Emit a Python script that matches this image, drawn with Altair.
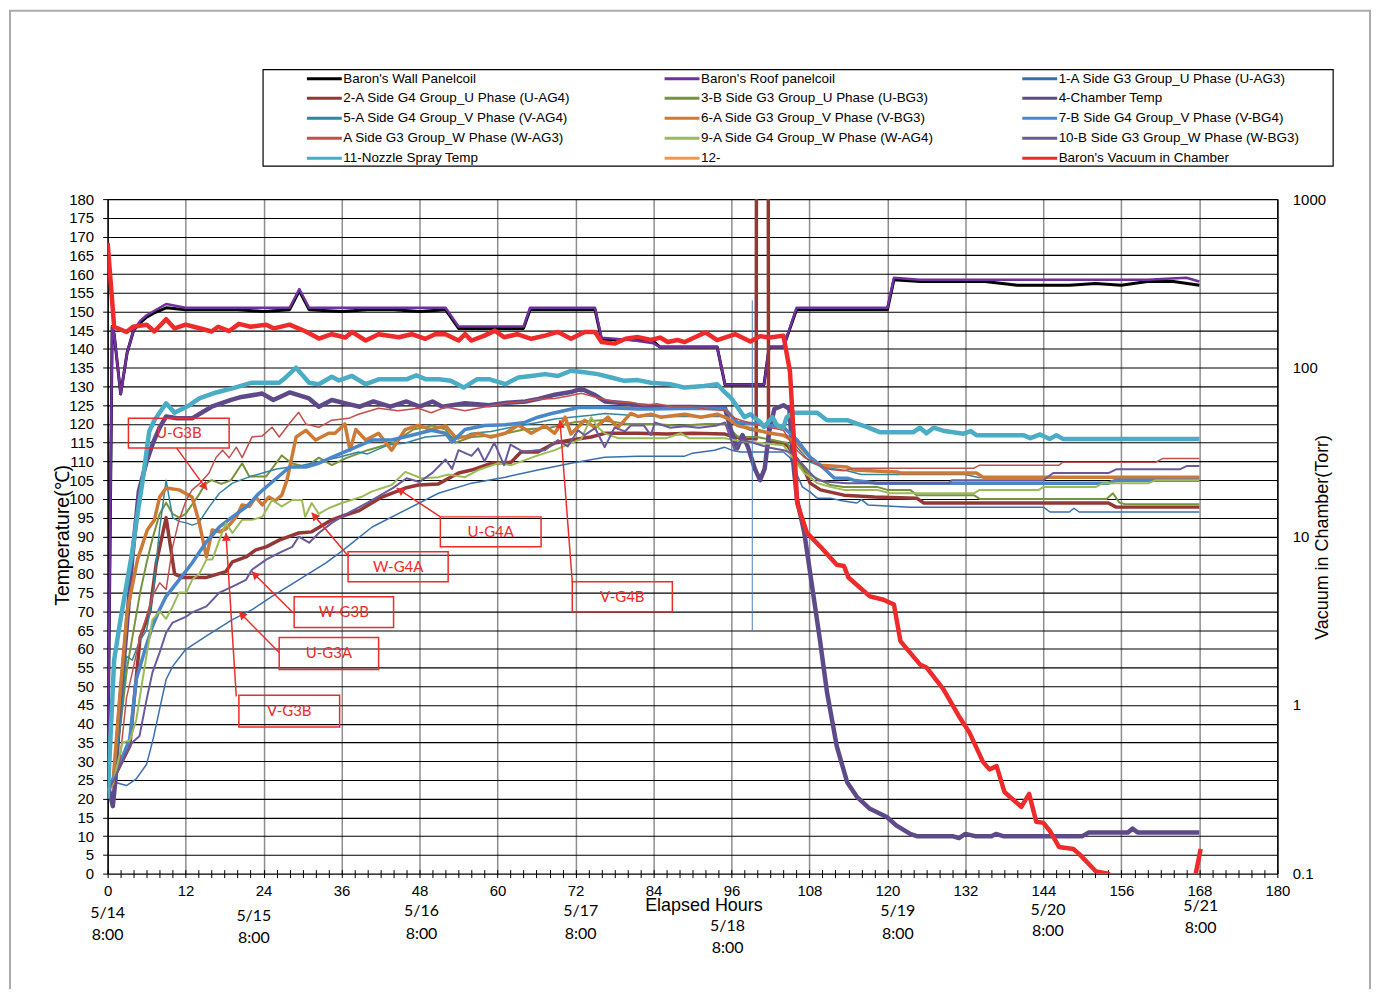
import math
import altair as alt
import pandas as pd

# ---------------- series names / colours / widths ----------------
NAMES = [
    "Baron's Wall Panelcoil", "Baron's Roof panelcoil", "1-A Side G3 Group_U Phase (U-AG3)",
    "2-A Side G4 Group_U Phase (U-AG4)", "3-B Side G3 Group_U Phase (U-BG3)", "4-Chamber Temp",
    "5-A Side G4 Group_V Phase (V-AG4)", "6-A Side G3 Group_V Phase (V-BG3)", "7-B Side G4 Group_V Phase (V-BG4)",
    "A Side G3 Group_W Phase (W-AG3)", "9-A Side G4 Group_W Phase (W-AG4)", "10-B Side G3 Group_W Phase (W-BG3)",
    "11-Nozzle Spray Temp", "12-", "Baron's Vacuum in Chamber",
]
COLORS = ["#000000", "#7030A0", "#3A6FAF", "#953735", "#77933C", "#5E4A8A",
          "#31859C", "#CC7A35", "#4A86C8", "#C0504D", "#9BBB59", "#6A5A9C",
          "#4BACC6", "#F79646", "#EE2A2A"]
WIDTHS = [3, 2.5, 1.5, 3.5, 2, 4.5, 1.5, 3.5, 3.5, 1.5, 2, 2, 4.5, 2, 4.5]
# legend fills column by column: this order shows the entries row by row (3 per row)
LEGEND_ORDER = [0, 3, 6, 9, 12, 1, 4, 7, 10, 13, 2, 5, 8, 11, 14]

# ---------------- data (hours, deg C) ----------------
WALL_H = [0, 0.7, 1, 2, 3, 4, 5, 6, 7, 9, 12, 16, 20, 24, 28, 29.5, 31, 36, 40, 44, 48, 52, 54, 58, 62, 64, 65, 70, 75, 76,
          80, 84, 85, 90, 93.8, 95, 100, 101, 101.8, 104, 106, 110, 115, 120, 121, 125, 130, 135, 140, 144, 148, 152, 156, 160, 164, 168]
WALL_T = [22, 146, 144, 128, 139, 145, 147, 148.5, 149.5, 151, 150.5, 150.5, 150.5, 150, 150.5, 155.5, 150.5, 150, 150.5, 150.5,
          150, 150.5, 145.5, 145.5, 145.5, 145.5, 150.5, 150.5, 150.5, 142.5, 142.5, 142, 140.5, 140.5, 140.5, 130.5, 130.5, 130.5,
          140.5, 140.5, 150.5, 150.5, 150.5, 150.5, 158.5, 158, 158, 158, 157, 157, 157, 157.5, 157, 158, 158, 157]

ROOF_H = [0, 0.7, 1, 2, 3, 4, 5, 6, 7, 9, 12, 16, 20, 24, 28, 29.5, 31, 36, 40, 44, 48, 52, 54, 58, 62, 64, 65, 70, 75, 76,
          80, 84, 85, 90, 93.8, 95, 100, 101, 101.8, 104, 106, 110, 115, 120, 121, 125, 130, 135, 140, 144, 148, 152, 156, 160, 166, 168]
ROOF_T = [22, 146, 144, 128, 139, 145, 147.5, 149, 150, 152, 151, 151, 151, 151, 151, 156, 151, 151, 151, 151,
          151, 151, 146, 146, 146, 146, 151, 151, 151, 143, 142.5, 141.5, 140.5, 140.5, 140.5, 130.5, 130.5, 130.5,
          140.5, 140.5, 151, 151, 151, 151, 159, 158.5, 158.5, 158.5, 158.5, 158.5, 158.5, 158.5, 158.5, 158.5, 159, 158]

UAG3_H = [0, 0.8, 2.9, 4.4, 6, 7, 8, 9, 10, 12, 15.1, 19.2, 22.3, 25.3, 29.4, 33.6, 36, 40.7, 45.8, 50.9, 56, 61.2, 66.2,
          71.3, 76.5, 81.6, 88.8, 90, 93.4, 94.9, 96, 97.4, 104, 105, 106.9, 108.1, 109.2, 111.2, 113, 115.3, 116, 117,
          123.5, 144, 145, 148, 148.7, 149.5, 168]
UAG3_T = [22, 24.5, 23.5, 25.3, 29.2, 35.9, 43.9, 51.8, 55.3, 59.8, 63.3, 67.8, 70.5, 74, 78.4, 82.9, 86, 92.5, 97, 101.5,
          104.2, 105.8, 107.7, 109.5, 111.1, 111.4, 111.4, 112.2, 113, 113.8, 113, 112.5, 112.5, 111, 103.2, 101.8, 100.2,
          100.2, 99.5, 98.9, 99.8, 98.4, 97.8, 97.8, 96.5, 96.5, 97.5, 96.5, 96.5]

UAG4_H = [0, 0.8, 3.4, 4, 5, 6.5, 7.5, 9, 10.3, 11.5, 15.1, 18.2, 19.2, 21.3, 22.8, 24.4, 26.4, 29.4, 31.4, 34.5, 36.6,
          38.6, 42.2, 45.8, 47.8, 50.9, 54, 56, 59, 62.1, 63.6, 66.2, 68.8, 71.3, 74.4, 76.5, 81.6, 86, 90, 95, 96.4,
          99.8, 99.9, 101.6, 101.7, 104.6, 107.2, 108.1, 109.7, 113.3, 118, 124.5, 125.6, 154, 155.2, 168]
UAG4_T = [22, 25, 34, 45, 63, 70, 83, 95, 80, 79, 79, 80.6, 83.2, 84.5, 86.4, 87.2, 89, 90.9, 91.2, 94.4, 95.7, 96.8,
          100.5, 102.9, 103.7, 104, 106.9, 107.7, 109.5, 109.8, 112.5, 112.5, 114.9, 115.7, 116.5, 117.5, 117.5, 117.3,
          117.5, 117.3, 116.5, 116, 300, 300, 115.7, 114.3, 107.7, 104.2, 102.4, 101, 100.5, 100.2, 98.9, 98.9, 97.8, 97.8]

UBG3_H = [0, 0.8, 2, 3, 4, 5, 6, 7, 8, 9, 10, 11, 12, 13, 14, 15, 16, 17.5, 19, 20.7, 21.8, 24.4, 25.9, 26.8, 28.3, 30.5,
          32.5, 34.5, 36.6, 40, 44, 47, 50, 52, 53.5, 56, 60, 64, 68, 72, 76, 80, 84, 88, 92, 95, 97, 100, 104.6, 106,
          108, 109.7, 111.2, 113.3, 118.4, 120, 123.5, 124.5, 133.3, 134.2, 153.7, 154.7, 155.7, 156.5, 168]
UBG3_T = [22, 24, 40, 55, 65, 75, 83, 90, 96, 99, 96, 95, 96, 98.5, 101, 104, 105, 104, 105, 109.5, 106, 106, 109.5,
          111.6, 109.5, 108.5, 111, 109, 110.8, 113, 115, 118.5, 119.6, 118.5, 115, 116.5, 117, 118.5, 119, 120.5, 121,
          120, 120, 119.5, 120, 120, 116.5, 116.5, 114.9, 110, 106.5, 105, 103.7, 103.2, 103.2, 102.4, 102.4, 101, 101,
          100, 100, 101.5, 99, 98.6, 98.6]

CH_H = [0, 0.8, 1.2, 1.8, 2.9, 3.8, 4.8, 6, 7, 8, 9, 10.7, 13, 16, 19, 20.6, 23.8, 25.5, 28, 31, 32.5, 34.5, 36.6, 38.8,
        40.9, 43.5, 46, 48, 50, 51.5, 55, 58.7, 61.2, 64.3, 66.3, 68.8, 71.3, 72.9, 74.9, 76.5, 79.6, 81.6, 85, 90, 95,
        95.8, 96.9, 97.7, 98.5, 99.6, 100.4, 101.1, 101.8, 102.6, 104, 104.9, 105.6, 106.1, 107.2, 108.1, 109.6, 110.7,
        112.2, 113.8, 115.3, 117.3, 119.9, 121.4, 123.5, 124.5, 130, 131, 132, 133.5, 136, 136.7, 137.8, 150, 151, 157,
        157.7, 158.5, 168]
CH_T = [24, 18, 25, 43, 65, 84.5, 102, 110, 115, 119, 122, 121.5, 121.5, 124.6, 126.4, 127.2, 128.1, 126.4, 128.4,
        126.8, 124.6, 126.4, 125.5, 124.6, 126, 124.6, 126, 124.6, 126, 124.6, 125.5, 125, 125.6, 126, 126.7, 127.8,
        128.5, 129.4, 127.8, 126, 125.5, 125, 124.5, 124.5, 124.3, 119, 113.5, 117, 114, 108, 105, 108, 118, 124, 125,
        124, 108, 99.7, 91, 80.3, 62.5, 48.4, 34, 24.4, 20.5, 17.3, 15.1, 12.8, 10.6, 10, 10, 9.5, 10.6, 10, 10, 10.6,
        10, 10, 11, 11, 12, 11, 11]

VAG4_H = [0, 0.8, 2, 2.9, 3.8, 4.9, 6, 7, 8, 9, 10, 11, 12.1, 13, 14, 15.6, 17.2, 19.2, 22, 26, 30, 34, 35.6, 38.6, 40,
          43.2, 45.8, 48.9, 52, 54, 56, 59, 62.1, 66.2, 68.8, 71.3, 74.4, 76.5, 81.6, 86, 90, 95, 96.5, 98.9, 102, 104.6,
          106.1, 108.1, 110, 113.8, 116, 132, 134, 168]
VAG4_T = [22, 24, 40, 58, 57, 62, 65, 75, 92, 105, 95, 94, 93.6, 93, 93.6, 97.8, 101.5, 104.2, 106, 108, 109, 110.5,
          111.1, 112.5, 112, 114.4, 114.9, 116.5, 117, 116, 117.5, 118, 119.1, 120.4, 121.3, 121.8, 122.3, 122.8, 122.2,
          122, 122, 122, 120.2, 118.3, 117.5, 117, 113.8, 109.8, 108.5, 107.5, 106.5, 106.5, 105.7, 105.7]

VBG3_H = [0, 0.8, 2, 3, 4.6, 6.1, 7.2, 8, 9, 11, 13, 14.1, 15.2, 16.1, 17.2, 18.2, 19.8, 20.7, 21.8, 22.8, 23.8, 24.8,
          25.8, 26.8, 27.6, 29, 30.5, 32, 34, 35, 36.5, 37.3, 38.2, 39.7, 41.7, 43.7, 45.8, 47.8, 49.8, 52, 53.5, 55, 57,
          59, 61.2, 63.2, 65.2, 67.3, 68.8, 70.4, 71.3, 73.4, 75, 77, 78.5, 80.5, 81.6, 83.6, 85.1, 88.8, 91.3, 93.8,
          95.4, 96.9, 100, 102, 104, 106.1, 108.1, 109.7, 113.8, 114.8, 121.4, 122, 133.7, 134.7, 168]
VBG3_T = [22, 24, 50, 70, 83.8, 91.7, 94.4, 100.5, 102.9, 102.4, 100.5, 93.6, 84.5, 91.7, 91.2, 92, 95.2, 98.4, 98,
          100.5, 98.4, 100.5, 99.5, 101, 105, 116.5, 118.3, 115.7, 117.5, 117.5, 120, 113, 118.5, 115.7, 117.5, 113,
          118.5, 119.6, 118.5, 119.5, 116.5, 116.5, 117.5, 116.5, 117.5, 119.7, 117.5, 119.5, 117.5, 121.8, 117.3, 121,
          119, 121.8, 119, 122.8, 122, 122.6, 121.8, 122.6, 121.8, 122.6, 121.5, 119.6, 118.3, 117.5, 117, 114.9, 111.1,
          109, 108.5, 107.7, 107.2, 106.9, 106.9, 105.8, 105.8]

VBG4_H = [0, 0.8, 3.4, 4.4, 5.9, 6.9, 8, 9, 11, 13, 15.1, 17.2, 19.2, 21.3, 23.3, 25.3, 28, 30.5, 32.5, 34.5, 37.1,
          40.7, 43.7, 46.8, 49.8, 52, 53, 55, 58, 61.2, 64.2, 66.2, 68.3, 70.4, 72.4, 76.5, 81.6, 83.6, 90, 95, 96.9,
          100, 104, 106.1, 108.1, 110.2, 111.8, 113.8, 114.8, 118.4, 154, 155.2, 168]
VBG4_T = [22, 25, 35.9, 51.8, 60.6, 66, 70.5, 74, 78.4, 82.9, 88.3, 92.5, 95.2, 97.8, 101.5, 104.5, 108.5, 108.5,
          109.5, 111.1, 113, 115.7, 115.7, 117, 118.3, 117.5, 115.2, 118.5, 119.6, 119.8, 120.4, 121.8, 122.8, 123.6,
          124.4, 124.4, 124, 124, 124.2, 124, 120.4, 120, 119.1, 115.7, 111.1, 108.2, 105.6, 105.5, 105, 104.2, 104.2,
          105, 105]

WAG3_H = [0, 0.8, 1.8, 2.9, 3.8, 4.9, 6.9, 8, 9, 10, 11, 12.1, 13, 14.1, 15.6, 16.7, 17.7, 18.7, 19.8, 20.7, 22.2,
          23.8, 25.3, 26.4, 28, 29.4, 30.5, 32.5, 34.5, 37.1, 38.6, 41.7, 44.7, 47.8, 49.8, 52, 55, 58, 61.2, 64.2, 66.2,
          68.8, 71.3, 72.9, 75.4, 78.5, 80.5, 82.6, 84.5, 87.1, 90, 92, 95, 96.5, 98.9, 101.5, 104, 105.6, 107.2, 108.7,
          110.2, 111.8, 113.3, 114.8, 133.3, 134.2, 146.4, 147, 161.3, 162.4, 168]
WAG3_T = [22, 24, 29, 46.9, 53.7, 62.5, 74, 77.6, 75.8, 87.2, 94.4, 99.7, 102.4, 104, 106.9, 111.1, 113, 111, 113.8,
          111, 116.5, 116.8, 119.1, 116.5, 120.2, 123.1, 120, 119.1, 121, 121.5, 122.6, 124.2, 123.5, 124.2, 123, 124.5,
          123.5, 124.5, 125.5, 126, 126.6, 126.8, 127.6, 128.2, 127, 125.8, 125.8, 125, 125.4, 124.5, 124.5, 124, 123.6,
          121.5, 120.2, 119.2, 118.3, 113.8, 111.1, 109.8, 108.2, 107.7, 107.5, 108.2, 108.2, 109, 109, 109.8, 109.8,
          110.8, 110.8]

WAG4_H = [0, 0.8, 2.3, 3.4, 4.4, 5.4, 6.9, 8, 9, 10, 11, 12.1, 13, 14.1, 15.2, 16.1, 17.2, 18.2, 19.2, 20.7, 22.2,
          23.8, 25.3, 26.8, 28.4, 29.9, 30.4, 31.4, 32.5, 34, 36, 39, 40.7, 43.7, 45.8, 48.3, 50.9, 52.4, 55, 57, 60.1,
          62.1, 66.2, 68.8, 71.3, 72.9, 74.4, 75.5, 76.5, 78.5, 86, 88.2, 89.5, 95, 97, 104, 107.2, 108.1, 109.2, 111.2,
          113.3, 118.4, 120.4, 133.3, 134.2, 143.3, 144, 152.1, 153.2, 160.2, 161.3, 168]
WAG4_T = [22, 24, 35, 35.5, 41, 52, 67.8, 70, 68, 71.3, 75, 75, 78.4, 80, 83.8, 83.8, 89, 93.6, 90.9, 94.4, 94.4,
          95.2, 99.7, 98, 99.7, 99.7, 95.2, 98.9, 96, 97.5, 98.9, 100.5, 102, 103.7, 107.2, 105.5, 105.8, 106.5, 105.8,
          107.7, 109.5, 109, 111.6, 113, 114.9, 116, 121.8, 119, 117.5, 116.2, 116.2, 117.5, 116.2, 116.2, 115.5, 114.3,
          106.9, 105.8, 104.2, 103.2, 102.4, 102.4, 101.5, 101.5, 102.4, 102.4, 103.2, 103.2, 104.2, 104.2, 105, 105]

WBG3_H = [0, 0.8, 2.9, 3.8, 4.9, 6, 6.9, 8, 9, 10, 12.1, 13, 15.2, 17.2, 19.2, 21.3, 22.2, 24.4, 26.4, 28.4, 29.4, 31,
          32.5, 34.5, 37.1, 40, 42, 44, 46, 48, 50, 52, 53, 54, 56, 57, 58, 59.5, 61, 62, 64, 66, 67.3, 69.3, 70.8, 72.4,
          73.4, 75, 76.5, 78, 79.6, 80.5, 82.5, 83.6, 84.2, 86.6, 88.8, 91, 93.8, 95, 96.5, 97.5, 99, 101.5, 104, 105.5,
          107.7, 109.2, 111.2, 113.8, 129.5, 129.9, 144, 145.5, 154, 155.2, 165, 166.1, 168]
WBG3_T = [22, 24.5, 32.4, 35, 36.7, 46.5, 53.7, 59, 64.3, 67, 68.6, 69.7, 71.3, 75, 76.6, 78.4, 81.1, 83.8, 85.6, 87.2,
          89.9, 88.3, 90.9, 93.6, 96.3, 99, 101, 103, 105.5, 104.5, 107, 110.5, 108, 113, 111.5, 113.5, 110, 115, 109,
          114.5, 112.5, 113, 113, 115.7, 114, 118.3, 117, 118.9, 113.8, 119, 118, 119.6, 119.6, 117, 120.4, 119, 119.4,
          119, 119.6, 120.4, 113, 115.7, 115.2, 113.8, 113, 112, 107.7, 105, 104.5, 104.2, 104.2, 105, 105, 106.9,
          106.9, 107.9, 107.9, 108.8, 108.8]

NZ_H = [0, 1, 2, 3, 3.8, 4.6, 5.4, 6.4, 7.2, 9, 10.3, 12.6, 14.1, 16.7, 19.2, 22.2, 26.4, 27.4, 29, 31, 32.5, 34.5,
        35.6, 37.6, 39.7, 41.7, 46, 47.5, 49, 51, 52.8, 54.8, 56.8, 58.8, 61.2, 63.2, 65.2, 67.3, 69.3, 71.3, 73.4, 75.4,
        77.5, 79.5, 81.6, 83.6, 86.6, 88.8, 91.8, 93.8, 95, 96, 98, 98.9, 100.5, 101, 102.3, 103, 104, 104.5, 105.6,
        109.2, 110.7, 113.8, 115.3, 116.8, 118.8, 124, 125, 126, 127.1, 128.8, 131.7, 132.8, 133.7, 140.9, 142, 143.5,
        145, 146, 147, 168]
NZ_T = [20, 57, 68, 78, 86, 96, 105, 118, 121, 125.5, 123, 125, 126.8, 128.4, 129.5, 131, 131, 132.4, 135, 131,
        130.6, 132.6, 131.6, 132.8, 130.6, 131.9, 131.9, 133, 131.9, 131.9, 131.5, 129.7, 131.9, 131.9, 130.6, 132.4,
        132.8, 133.3, 132.8, 134.2, 133.8, 133.3, 132.4, 131.5, 131.7, 131, 130.6, 129.7, 130.1, 130.6, 128.4, 126.8,
        121.8, 122.6, 120.4, 119.2, 121.8, 119.6, 119.2, 121.8, 123, 123, 121, 121, 120.1, 119.2, 117.8, 117.8, 119,
        117.5, 119, 118.1, 117.4, 118.1, 117, 117, 116.2, 117.2, 116, 117, 116, 116]

# vacuum (Torr, right log axis)
VAC_H = [0, 1, 2.9, 3.9, 6, 7.2, 9, 10.3, 12, 14, 16, 17, 18.7, 20.2, 22, 24.4, 25.6, 28, 30.5, 32.5, 34.5, 36.6, 37.6,
         39.7, 41.7, 44.8, 46.8, 48.9, 50.4, 52, 54, 55, 56, 58, 59.6, 61, 63, 65.2, 67.3, 69.3, 71.3, 73.4, 75, 76, 78,
         79.7, 81.6, 83.6, 85, 86.2, 87.7, 88.8, 90.3, 92, 93.8, 96.6, 98.9, 100.4, 101.9, 104, 105, 105.6, 106.1, 107.6,
         109.7, 112.2, 113.3, 114, 117.3, 119.4, 121, 122, 125, 126, 128.6, 131, 132.6, 134.7, 135.7, 136.8, 138, 140.6,
         141.8, 142.9, 144, 145, 146.4, 148.6, 149.5, 152.1, 154, 155.5, 166.5, 167.4, 168.2]
VAC_TORR = [550, 175, 163, 175, 180, 164, 194, 171, 180, 172, 164, 175, 165, 182, 175, 180, 171, 180, 164, 149, 158, 151,
            163, 145, 158, 151.5, 158, 148.5, 158, 158, 145, 158, 145, 155, 166, 151.5, 158, 148.5, 155, 163, 148.5, 163,
            163, 142, 139, 148.5, 152, 146, 151, 142, 146, 142, 151, 162, 146, 158, 143, 154, 151, 155, 95, 37.8, 15.8,
            10.5, 8.67, 6.78, 6.68, 5.7, 4.41, 4.21, 3.94, 2.39, 1.74, 1.67, 1.24, 0.858, 0.688, 0.46, 0.415, 0.434,
            0.305, 0.249, 0.297, 0.203, 0.2, 0.179, 0.144, 0.14, 0.131, 0.103, 0.1, 0.05, 0.05, 0.098, 0.14]

# thin vertical marker line
MARK_H = [99.2]
MARK_T1 = [65]
MARK_T2 = [153]

# callout boxes (hours, deg C)
BOX_LABELS = ["U-G3B", "U-G4A", "W-G4A", "V-G4B", "W-G3B", "U-G3A", "V-G3B"]
BOX_H1 = [3.2, 51.2, 37.0, 71.5, 28.7, 26.4, 20.2]
BOX_H2 = [18.7, 66.7, 52.4, 86.9, 44.0, 41.7, 35.7]
BOX_T1 = [121.5, 95.2, 85.9, 77.9, 73.9, 63.0, 47.6]
BOX_T2 = [113.6, 87.2, 77.9, 69.9, 65.7, 54.5, 39.1]
ARROW_H1 = [10.6, 51.2, 37.1, 71.5, 28.5, 26.4, 19.8]
ARROW_T1 = [113.6, 95.2, 84.6, 77.9, 69.7, 59.0, 47.3]
ARROW_H2 = [15.3, 44.5, 31.4, 69.6, 22.2, 20.2, 18.2]
ARROW_T2 = [102.4, 102.9, 96.3, 121.0, 80.6, 69.9, 90.9]

# date labels under the x axis
DATE_H = [0, 22.5, 48.3, 72.8, 95.4, 121.6, 144.7, 168.2]
DATE_TEXT = ["5/14", "5/15", "5/16", "5/17", "5/18", "5/19", "5/20", "5/21"]
DATE_T = [-10.6, -11.2, -10.1, -10.1, -14.1, -10.1, -9.8, -8.7]
TIME_TEXT = ["8:00"] * 8
TIME_T = [-16.5, -17.3, -16.0, -16.0, -19.9, -16.0, -15.4, -14.6]

X_TICKS = list(range(0, 181, 2))
Y_TICKS = list(range(0, 181, 5))
VAC_TICKS = [0.1, 1, 10, 100, 1000]

# ---------------- styling ----------------
PLOT_W, PLOT_H = 1174, 677
FONT = "Liberation Sans"
CAL = "Lato"
RED = "#EE2B2B"

x_scale = alt.Scale(domain=[0, 180], nice=False, zero=False)
y_scale = alt.Scale(domain=[0, 180], nice=False, zero=False)
color_scale = alt.Scale(domain=[NAMES[i] for i in LEGEND_ORDER], range=[COLORS[i] for i in LEGEND_ORDER])

x_axis = alt.Axis(
    values=X_TICKS, labelExpr="datum.value % 12 === 0 ? datum.label : ''",
    labelFont=FONT, labelFontSize=15, labelColor="black", labelPadding=6, labelFlush=False, labelOverlap=False,
    tickSize=8, tickColor="black", tickWidth=1, offset=-4, domain=False,
    grid=True, gridColor="#8E8E8E", gridWidth=1.5,
    gridOpacity={"condition": {"test": "datum.value % 12 === 0", "value": 1}, "value": 0},
    title="Elapsed Hours", titleFont=FONT, titleFontSize=18, titleFontWeight="normal", titleColor="black",
    titleX=598, titleY=36, titleAlign="center", titleBaseline="middle",
)
y_axis = alt.Axis(
    orient="left", values=Y_TICKS, labelFont=FONT, labelFontSize=15, labelColor="black", labelPadding=9,
    tickSize=5, tickColor="black", domain=True, domainColor="black", domainWidth=1.5,
    grid=True, gridColor="black", gridWidth=1.1,
    title="Temperature(℃)", titleFont=FONT, titleFontSize=19.5, titleFontWeight="normal", titleColor="black",
    titleAngle=270, titleX=-45, titleY=337, titleAlign="center", titleBaseline="middle",
)
v_axis = alt.Axis(
    orient="right", values=VAC_TICKS, format="~g", labelFont=FONT, labelFontSize=15, labelColor="black",
    labelPadding=15, ticks=False, domain=True, domainColor="black", domainWidth=1.5, grid=False,
    title="Vacuum in Chamber(Torr)", titleFont=FONT, titleFontSize=18, titleFontWeight="normal", titleColor="black",
    titleAngle=270, titleX=45, titleY=339, titleAlign="center", titleBaseline="middle",
)

legend = alt.Legend(
    title=None, orient="none", legendX=198.5, legendY=-130.75, columns=3, symbolType="stroke", symbolSize=1225,
    symbolStrokeWidth=3, labelFont=FONT, labelFontSize=13.5, labelColor="black", labelOffset=0, labelLimit=400,
    columnPadding=79, rowPadding=0, clipHeight=19.3, gridAlign="all", padding=0,
)


def X(field):
    return alt.X(field, scale=x_scale, axis=x_axis)


def Y(field):
    return alt.Y(field, scale=y_scale, axis=y_axis)


layers = []

# outer frame and legend box (layout decoration)
one = pd.DataFrame({"k": [0]})
layers.append(alt.Chart(one).mark_rect(fill="transparent", stroke="#ABABAB", strokeWidth=2).encode(
    x=alt.value(-98), x2=alt.value(1267), y=alt.value(-189), y2=alt.value(820)))
layers.append(alt.Chart(one).mark_rect(fill="transparent", stroke="black", strokeWidth=1.2).encode(
    x=alt.value(156), x2=alt.value(1230), y=alt.value(-130), y2=alt.value(-33)))

series_data = [
    (WALL_H, WALL_T), (ROOF_H, ROOF_T), (UAG3_H, UAG3_T), (UAG4_H, UAG4_T), (UBG3_H, UBG3_T), (CH_H, CH_T),
    (VAG4_H, VAG4_T), (VBG3_H, VBG3_T), (VBG4_H, VBG4_T), (WAG3_H, WAG3_T), (WAG4_H, WAG4_T), (WBG3_H, WBG3_T),
    (NZ_H, NZ_T),
]
for i, (hs, ts) in enumerate(series_data):
    df = pd.DataFrame({"hour": hs, "temp": ts, "series": NAMES[i]})
    layers.append(alt.Chart(df).mark_line(strokeWidth=WIDTHS[i], clip=True, strokeJoin="round").encode(
        x=X("hour:Q"), y=Y("temp:Q"),
        color=alt.Color("series:N", scale=color_scale, legend=legend),
    ))

# marker line
mk = pd.DataFrame({"h": MARK_H, "t1": MARK_T1, "t2": MARK_T2})
layers.append(alt.Chart(mk).mark_rule(color="#4F81BD", strokeWidth=1).encode(
    x=X("h:Q"), y=Y("t1:Q"), y2="t2:Q"))

# callouts
bx = pd.DataFrame({"h1": BOX_H1, "h2": BOX_H2, "t1": BOX_T1, "t2": BOX_T2, "label": BOX_LABELS})
bx["hc"] = (bx["h1"] + bx["h2"]) / 2
bx["tc"] = (bx["t1"] + bx["t2"]) / 2
layers.append(alt.Chart(bx).mark_rect(fill="transparent", stroke=RED, strokeWidth=1.5).encode(
    x=X("h1:Q"), x2="h2:Q", y=Y("t1:Q"), y2="t2:Q"))
layers.append(alt.Chart(bx).mark_text(font=CAL, fontSize=15, color=RED, align="center", baseline="middle").encode(
    x=X("hc:Q"), y=Y("tc:Q"), text="label:N"))

ar = pd.DataFrame({"h1": ARROW_H1, "t1": ARROW_T1, "h2": ARROW_H2, "t2": ARROW_T2})
SX, SY = PLOT_W / 180.0, PLOT_H / 180.0
angs, hh, tt = [], [], []
for h1, t1, h2, t2 in zip(ARROW_H1, ARROW_T1, ARROW_H2, ARROW_T2):
    dx, dy = (h2 - h1) * SX, (t2 - t1) * SY
    ln = math.hypot(dx, dy)
    angs.append(math.degrees(math.atan2(dx, dy)) % 360)
    hh.append(h2 - dx / ln * 4 / SX)
    tt.append(t2 - dy / ln * 4 / SY)
ar["ang"] = angs
ar["hh"] = hh
ar["th"] = tt
layers.append(alt.Chart(ar).mark_rule(color=RED, strokeWidth=1.5).encode(
    x=X("h1:Q"), x2="h2:Q", y=Y("t1:Q"), y2="t2:Q"))
layers.append(alt.Chart(ar).mark_point(shape="triangle-up", filled=True, size=80, color=RED, opacity=1).encode(
    x=X("hh:Q"), y=Y("th:Q"), angle=alt.Angle("ang:Q", scale=None)))

# dates under the axis
dt = pd.DataFrame({"h": DATE_H, "d": DATE_TEXT, "t1": DATE_T, "tm": TIME_TEXT, "t2": TIME_T})
layers.append(alt.Chart(dt).mark_text(font=CAL, fontSize=16, color="black", align="center", baseline="middle").encode(
    x=X("h:Q"), y=Y("t1:Q"), text="d:N"))
layers.append(alt.Chart(dt).mark_text(font=CAL, fontSize=16, color="black", align="center", baseline="middle").encode(
    x=X("h:Q"), y=Y("t2:Q"), text="tm:N"))

inner = alt.layer(*layers)

vac_df = pd.DataFrame({"hour": VAC_H, "torr": VAC_TORR, "series": NAMES[-1]})
vac = alt.Chart(vac_df).mark_line(strokeWidth=WIDTHS[-1], clip=True, strokeJoin="round").encode(
    x=X("hour:Q"),
    y=alt.Y("torr:Q", scale=alt.Scale(type="log", domain=[0.1, 1000], nice=False), axis=v_axis),
    color=alt.Color("series:N", scale=color_scale, legend=legend),
)

chart = alt.layer(inner, vac).resolve_scale(y="independent").properties(
    width=PLOT_W, height=PLOT_H,
    autosize=alt.AutoSizeParams(type="none"),
    padding={"left": 100, "top": 190, "right": 95, "bottom": 114},
    background="white",
).configure_view(stroke="transparent")

chart.save("out.html", embed_options={"renderer": "svg", "actions": False})
